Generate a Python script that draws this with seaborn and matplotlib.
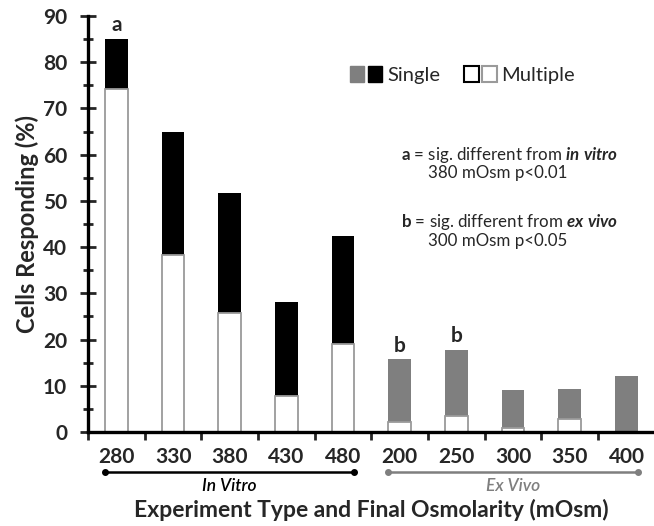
import matplotlib
matplotlib.use("Agg")
import matplotlib.pyplot as plt
import numpy as np
import pandas as pd
import seaborn as sns
from matplotlib.patches import Patch
from matplotlib.legend_handler import HandlerTuple

# values
osmolarity = ["280", "330", "380", "430", "480", "200", "250", "300", "350", "400"]
experiment = ["In Vitro"] * 5 + ["Ex Vivo"] * 5
total_pct = [85.0, 65.0, 51.8, 28.2, 42.5, 15.7, 17.8, 9.0, 9.2, 12.1]
multiple_pct = [74.2, 38.2, 25.7, 7.8, 19.0, 2.2, 3.5, 0.8, 2.8, 0.0]
sig_letters = {"280": "a", "200": "b", "250": "b"}

df = pd.DataFrame({"osm": osmolarity, "exp": experiment,
                   "total": total_pct, "multiple": multiple_pct})

sns.set_style("white")
plt.rcParams["font.family"] = ["Lato", "DejaVu Sans"]
plt.rcParams["mathtext.fontset"] = "custom"
plt.rcParams["mathtext.rm"] = "Lato"
plt.rcParams["mathtext.bf"] = "Lato:bold"
plt.rcParams["mathtext.it"] = "Lato:italic"
plt.rcParams["mathtext.bfit"] = "Lato:bold:italic"

GRAY = "#7f7f7f"
EDGE = "#9a9a9a"

fig = plt.figure(figsize=(6.54, 5.26), dpi=100)
ax = fig.add_axes([0.1346, 0.1787, 0.8667, 0.7909])

# single (top segment) drawn as full-height bars, multiple painted over it
sns.barplot(data=df, x="osm", y="total", hue="exp", order=osmolarity,
            palette={"In Vitro": "black", "Ex Vivo": GRAY}, dodge=False,
            width=0.4, legend=False, linewidth=0, ax=ax)
sns.barplot(data=df, x="osm", y="multiple", order=osmolarity, color="white",
            edgecolor=EDGE, linewidth=1.3, width=0.4, ax=ax)

for i, osm in enumerate(osmolarity):
    if osm in sig_letters:
        ax.text(i, total_pct[i] + 0.8, sig_letters[osm], ha="center", va="bottom",
                fontsize=15, fontweight="bold")

ax.set_xlim(-0.5, 9.5)
ax.set_ylim(0, 90)
ax.set_yticks(np.arange(0, 91, 10))
ax.set_yticks(np.arange(5, 90, 10), minor=True)
ax.set_xticks(np.arange(-0.5, 10, 1), minor=True)

sns.despine(ax=ax, top=True, right=True)
for side in ("left", "bottom"):
    ax.spines[side].set_linewidth(2.4)
    ax.spines[side].set_color("black")

ax.tick_params(axis="y", which="major", direction="inout", length=12, width=2,
               labelsize=15, pad=9, left=True)
ax.tick_params(axis="y", which="minor", direction="inout", length=7, width=2, left=True)
ax.tick_params(axis="x", which="major", length=0, labelsize=15, pad=11)
ax.tick_params(axis="x", which="minor", direction="out", length=6, width=2, bottom=True)
for lab in ax.get_xticklabels() + ax.get_yticklabels():
    lab.set_fontweight("bold")

ax.set_ylabel("Cells Responding (%)", fontsize=17, fontweight="bold", labelpad=3)
ax.set_xlabel("Experiment Type and Final Osmolarity (mOsm)", fontsize=16.5,
              fontweight="bold", labelpad=23)

# group brackets under the tick labels
trans = ax.get_xaxis_transform()
for (start, stop, name, col) in [(0, 4, "In Vitro", "black"), (5, 9, "Ex Vivo", GRAY)]:
    x0, x1 = start - 0.2, stop + 0.2
    ax.plot([x0, x1], [-0.096, -0.096], color=col, lw=1.8, marker="o",
            markersize=4, markevery=[0, 1], transform=trans, clip_on=False)
    ax.text((x0 + x1) / 2, -0.11, name, color=col, style="italic",
            fontweight="semibold", fontsize=12.5, ha="center", va="top",
            transform=trans)

# legend: ■■ Single  □□ Multiple
single_h = (Patch(fc=GRAY, ec=GRAY), Patch(fc="black", ec="black"))
multi_h = (Patch(fc="white", ec="black", lw=1.5), Patch(fc="white", ec=EDGE, lw=1.5))
ax.legend([single_h, multi_h], ["Single", "Multiple"],
          handler_map={tuple: HandlerTuple(ndivide=None, pad=0.15)},
          ncol=2, frameon=False, fontsize=14.5, loc="center left",
          bbox_to_anchor=(0.43, 0.858), handlelength=1.6, handleheight=0.8,
          handletextpad=0.25, columnspacing=1.2)

note_kw = dict(transform=ax.transAxes, fontsize=12.2, va="center")
ax.text(0.552, 0.666, r"$\mathbf{a}$ = sig. different from $\mathbfit{in\ vitro}$", **note_kw)
ax.text(0.6, 0.623, "380 mOsm p<0.01", **note_kw)
ax.text(0.552, 0.505, r"$\mathbf{b}$ = sig. different from $\mathbfit{ex\ vivo}$", **note_kw)
ax.text(0.6, 0.46, "300 mOsm p<0.05", **note_kw)

fig.savefig("out.png", dpi=100)
